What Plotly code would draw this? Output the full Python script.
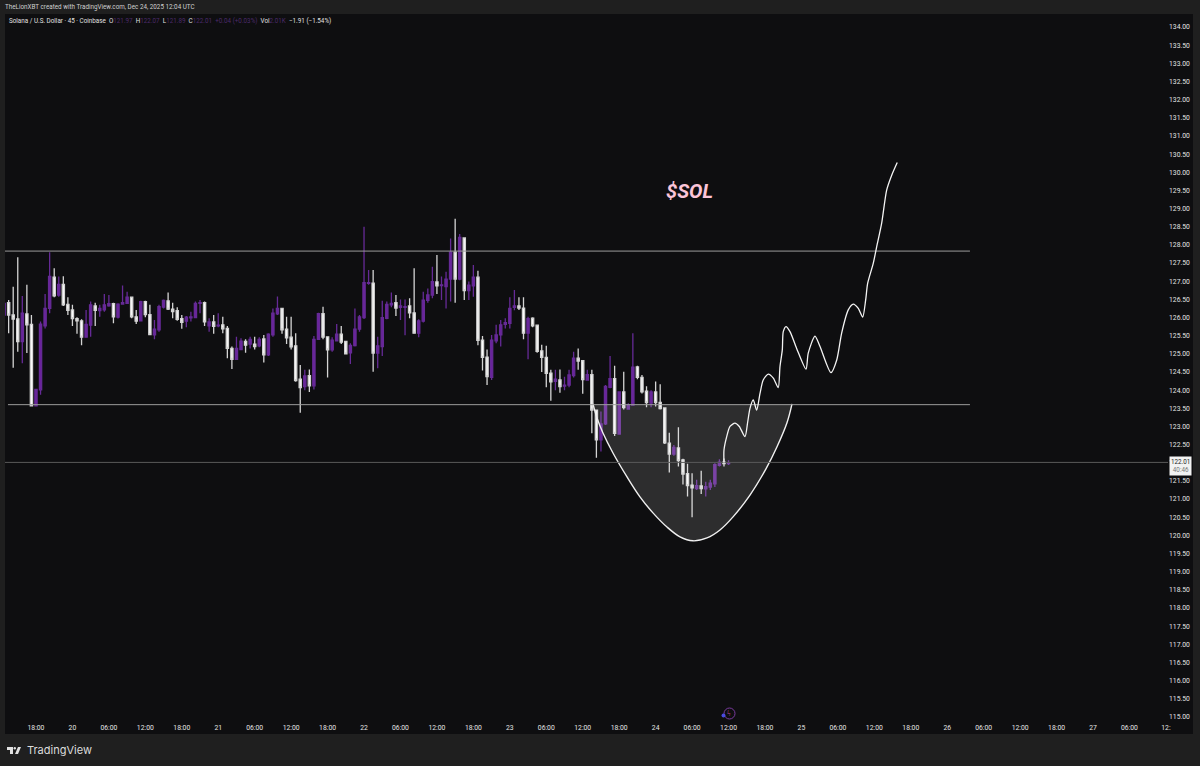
import pandas as pd
import plotly.graph_objects as go

# 45 minute candles
opens = [126.07, 126.41, 126.07, 125.96, 125.34, 126.10, 125.81, 123.57, 124.01, 125.77,
         126.25, 127.11, 126.62, 126.91, 126.36, 126.21, 125.97, 125.91, 125.46, 125.79,
         126.32, 126.19, 126.21, 126.32, 126.38, 126.01, 126.37, 126.39, 126.56, 126.02,
         125.91, 126.44, 126.08, 125.52, 125.66, 126.29, 126.46, 126.23, 126.19, 125.97,
         125.90, 125.99, 126.00, 126.39, 126.41, 125.77, 125.88, 125.77, 125.80, 125.70,
         125.15, 124.85, 125.12, 125.34,
         125.27, 125.27, 125.22, 125.41, 124.97, 125.52, 126.10, 126.25, 125.68, 125.46,
         125.22, 124.30, 124.10, 124.40, 124.12, 125.40, 126.11, 125.47, 125.11, 125.36,
         125.54, 125.34, 125.03, 125.23, 125.68, 126.00, 126.94, 126.95, 125.02, 125.20,
         125.98, 126.35, 126.41, 126.28, 126.28, 126.32, 126.13, 125.57, 125.90, 126.47,
         126.62, 126.98, 126.88, 126.85, 127.06, 127.80, 127.06, 128.19, 126.74, 126.87,
         127.11, 125.38, 124.91, 124.35, 125.36,
         125.52, 125.81, 125.84, 126.28, 126.32, 126.26, 125.57, 125.98, 125.79, 125.08,
         124.90, 124.47, 124.24, 124.28, 124.11, 124.14, 124.40, 124.88, 124.81, 124.28,
         124.43, 123.45, 122.63, 123.07, 124.08, 124.32, 122.79, 123.95, 123.48, 123.59,
         124.64, 124.35, 123.97, 123.64, 123.95, 123.66, 123.51, 122.54, 122.24, 122.41,
         122.08, 121.70, 121.38, 121.29, 121.36, 121.28, 121.33, 121.42, 121.93, 122.02,
         121.98]
highs = [126.44, 126.48, 126.85, 127.66, 126.59, 126.90, 126.07, 124.02, 125.89, 126.65,
         127.80, 127.36, 127.13, 127.14, 126.56, 126.35, 126.01, 125.95, 126.21, 126.44,
         126.41, 126.35, 126.65, 126.62, 126.41, 126.39, 126.88, 126.71, 126.58, 126.21,
         126.46, 126.46, 126.35, 125.93, 126.35, 126.50, 126.69, 126.41, 126.28, 126.07,
         126.04, 126.16, 126.44, 126.48, 126.44, 125.98, 126.07, 126.12, 126.02, 125.77,
         125.20, 125.47, 125.43, 125.40,
         125.47, 125.47, 125.46, 125.52, 125.57, 126.25, 126.58, 126.27, 126.02, 126.02,
         125.57, 124.69, 124.56, 124.57, 125.49, 126.13, 126.30, 125.47, 125.46, 125.82,
         125.77, 125.36, 125.29, 126.25, 126.07, 128.50, 127.31, 127.31, 125.47, 126.46,
         126.44, 126.69, 126.62, 126.50, 126.50, 126.53, 127.36, 125.95, 126.71, 126.80,
         127.40, 127.72, 127.13, 127.26, 128.18, 128.72, 128.30, 128.21, 126.99, 127.45,
         127.29, 125.49, 125.12, 125.52, 125.80,
         125.93, 125.98, 126.56, 126.76, 126.56, 126.56, 126.02, 126.01, 125.80, 125.25,
         125.22, 124.56, 124.56, 124.57, 124.37, 124.56, 125.06, 125.15, 124.83, 124.56,
         124.56, 123.45, 123.41, 124.14, 124.94, 124.67, 123.95, 124.51, 123.64, 125.57,
         124.67, 124.42, 124.11, 124.00, 124.24, 124.16, 123.53, 122.83, 122.49, 122.98,
         122.11, 121.97, 121.71, 121.53, 121.78, 121.48, 121.53, 121.99, 122.10, 122.12,
         122.07]
lows = [125.75, 125.57, 124.62, 125.06, 124.74, 125.02, 123.57, 123.57, 123.87, 125.70,
        126.12, 126.56, 126.57, 126.32, 126.07, 125.77, 125.55, 125.24, 125.46, 125.47,
        125.77, 126.02, 126.16, 126.30, 125.84, 125.97, 126.35, 126.37, 125.98, 125.82,
        125.89, 126.01, 125.52, 125.40, 125.61, 126.25, 126.21, 125.98, 125.91, 125.69,
        125.73, 125.89, 125.98, 126.12, 125.77, 125.61, 125.55, 125.73, 125.57, 124.88,
        124.58, 124.85, 125.11, 125.03,
        125.15, 125.12, 125.18, 124.76, 124.94, 125.47, 126.07, 125.55, 125.27, 125.12,
        124.23, 123.38, 124.00, 123.95, 124.02, 125.38, 125.40, 124.35, 125.06, 125.34,
        125.27, 124.98, 124.72, 125.20, 125.61, 125.96, 126.90, 124.51, 124.60, 124.94,
        125.95, 126.28, 126.04, 125.93, 125.51, 125.98, 125.55, 125.46, 125.86, 126.41,
        126.53, 126.65, 126.48, 126.25, 126.44, 126.41, 127.03, 126.48, 126.48, 126.57,
        125.24, 124.54, 124.14, 124.28, 125.29,
        125.20, 125.70, 125.70, 126.20, 126.21, 125.40, 124.85, 125.73, 125.03, 124.50,
        124.08, 123.71, 124.00, 123.93, 124.00, 124.08, 124.35, 124.56, 123.90, 124.26,
        122.81, 122.14, 122.31, 123.04, 124.05, 122.74, 122.77, 123.47, 123.47, 123.57,
        124.30, 123.91, 123.53, 123.53, 123.55, 123.47, 122.52, 121.73, 122.19, 121.90,
        121.40, 121.07, 120.50, 121.25, 121.14, 121.07, 121.25, 121.33, 121.90, 121.90,
        121.94]
closes = [126.39, 126.07, 125.96, 125.34, 126.12, 125.80, 123.57, 124.02, 125.82, 126.25,
          127.13, 126.60, 126.91, 126.35, 126.20, 125.97, 125.91, 125.46, 125.81, 126.35,
          126.20, 126.25, 126.35, 126.38, 126.02, 126.37, 126.41, 126.56, 126.02, 125.90,
          126.44, 126.08, 125.53, 125.68, 126.30, 126.47, 126.23, 126.16, 125.95, 125.87,
          126.01, 126.02, 126.39, 126.41, 125.88, 125.88, 125.76, 125.79, 125.69, 125.15,
          124.85, 125.15, 125.35, 125.24,
          125.40, 125.20, 125.40, 124.97, 125.54, 126.12, 126.25, 125.66, 125.44, 125.19,
          124.26, 124.07, 124.39, 124.12, 125.40, 126.11, 125.46, 125.11, 125.38, 125.54,
          125.32, 125.00, 125.23, 125.68, 126.02, 126.96, 126.96, 125.02, 125.22, 126.00,
          126.36, 126.39, 126.26, 126.32, 126.30, 126.13, 125.57, 125.91, 126.48, 126.62,
          126.99, 126.87, 126.90, 127.06, 127.80, 127.06, 128.21, 126.74, 126.89, 127.11,
          125.37, 124.90, 124.37, 125.38, 125.52,
          125.80, 125.86, 126.25, 126.32, 126.26, 125.57, 125.97, 125.77, 125.07, 124.90,
          124.46, 124.23, 124.30, 124.10, 124.14, 124.42, 124.88, 124.80, 124.29, 124.43,
          123.45, 122.63, 123.07, 124.10, 124.32, 122.81, 123.95, 123.52, 123.59, 124.63,
          124.35, 123.95, 123.66, 123.95, 123.66, 123.49, 122.55, 122.24, 122.42, 122.06,
          121.69, 121.37, 121.31, 121.37, 121.29, 121.34, 121.44, 121.95, 122.02, 121.98,
          122.00]

# horizontal levels
upper_level = 127.83
lower_level = 123.60
last_price = 122.01
upper_hours = [-5.10, 153.74]
lower_hours = [-4.61, 153.74]

# the drawn cup, hours after Dec 19 18:00
cup_hours = [91.69, 92.35, 93.33, 94.98, 97.29, 99.42, 101.56, 103.87, 106.01, 108.15,
             110.45, 112.59, 114.74, 117.53, 120.16, 121.98, 123.62, 124.45]
cup_prices = [123.62, 123.23, 122.82, 122.27, 121.61, 121.06, 120.62, 120.23, 119.96, 119.85,
              119.93, 120.15, 120.51, 121.11, 121.83, 122.44, 123.10, 123.62]

# the hand drawn projection
path_hours = [113.25, 113.25, 113.70, 114.24, 115.06, 115.77, 116.71, 117.16, 117.53, 118.07,
              118.63, 119.18, 119.71, 120.54, 121.37, 122.18, 122.47, 122.85, 123.01, 123.46,
              124.12, 125.21, 126.75, 127.12, 128.23, 129.06, 130.86, 131.81, 132.62, 133.71,
              134.53, 135.36, 136.08, 136.57, 136.90, 137.82, 138.39, 139.21, 140.03, 140.86,
              141.77]
path_prices = [122.00, 122.35, 122.72, 123.00, 123.09, 123.00, 122.72, 123.13, 123.50, 123.73,
               123.45, 123.91, 124.28, 124.44, 124.33, 124.07, 124.65, 125.11, 125.61, 125.75,
               125.61, 125.15, 124.58, 125.02, 125.49, 125.20, 124.48, 124.83, 125.57, 126.21,
               126.37, 126.25, 126.01, 126.48, 126.94, 127.49, 127.95, 128.60, 129.51, 129.92,
               130.27]

time_labels = ["18:00", "20", "06:00", "12:00", "18:00", "21", "06:00", "12:00",
               "18:00", "22", "06:00", "12:00", "18:00", "23", "06:00", "12:00",
               "18:00", "24", "06:00", "12:00", "18:00", "25", "06:00", "12:00",
               "18:00", "26", "06:00", "12:00", "18:00", "27", "06:00", "12:"]
price_ticks = [115 + 0.5 * i for i in range(39)]

PANEL = "#0e0e10"
OUTER = "#1f1f1f"
FONT = "Roboto"

# plot area in page pixels
LEFT, RIGHT, TOP, BOTTOM = 5, 1168, 14, 722


def px(x):
    return (x - LEFT) / (RIGHT - LEFT)


def py(y):
    return (BOTTOM - y) / (BOTTOM - TOP)


base = pd.Timestamp("2025-12-19 18:00")


def at(hours):
    return base + pd.to_timedelta(hours, unit="h")


candle_times = pd.date_range("2025-12-19 12:45", periods=len(opens), freq="45min")
tick_times = [base + pd.Timedelta(hours=6 * i) for i in range(len(time_labels))]

fig = go.Figure()

fig.add_trace(go.Candlestick(
    x=candle_times, open=opens, high=highs, low=lows, close=closes,
    increasing=dict(line=dict(color="#652a96", width=1.3), fillcolor="#6c239e"),
    decreasing=dict(line=dict(color="#d4d4d4", width=1.3), fillcolor="#ffffff"),
    whiskerwidth=0,
))
fig.add_trace(go.Scatter(
    x=at(cup_hours), y=cup_prices, mode="lines", fill="toself",
    fillcolor="rgba(255,255,255,0.13)",
    line=dict(color="#f0f0f0", width=1.4, shape="spline", smoothing=1),
))
fig.add_trace(go.Scatter(
    x=at(upper_hours), y=[upper_level, upper_level], mode="lines",
    line=dict(color="#9c9c9c", width=1),
))
fig.add_trace(go.Scatter(
    x=at(lower_hours), y=[lower_level, lower_level], mode="lines",
    line=dict(color="#9c9c9c", width=1),
))
fig.add_trace(go.Scatter(
    x=[candle_times[0], at(186.34)], y=[last_price, last_price], mode="lines",
    line=dict(color="#5a5a5a", width=1),
))
fig.add_trace(go.Scatter(
    x=at(path_hours), y=path_prices, mode="lines",
    line=dict(color="#f4f4f4", width=1.3, shape="spline", smoothing=0.7),
))

dim = "#4c2a6a"
legend_text = (
    "Solana / U.S. Dollar · 45 · Coinbase&nbsp;&nbsp;"
    f"O<span style='color:{dim}'>121.97</span>&nbsp;&nbsp;"
    f"H<span style='color:{dim}'>122.07</span>&nbsp;&nbsp;"
    f"L<span style='color:{dim}'>121.89</span>&nbsp;&nbsp;"
    f"C<span style='color:{dim}'>122.01</span>&nbsp;&nbsp;"
    f"<span style='color:{dim}'>+0.04 (+0.03%)</span>&nbsp;&nbsp;"
    f"Vol<span style='color:{dim}'>2.01K</span>&nbsp;&nbsp;"
    "−1.91 (−1.54%)"
)

annotations = [
    dict(xref="paper", yref="paper", x=px(3), y=py(7), xanchor="left", yanchor="middle",
         showarrow=False,
         text="TheLionXBT created with TradingView.com, Dec 24, 2025 12:04 UTC",
         font=dict(size=6.3, color="#d0d0d0")),
    dict(xref="paper", yref="paper", x=px(7), y=py(21), xanchor="left", yanchor="middle",
         showarrow=False, text=legend_text, font=dict(size=6.3, color="#e0e0e0")),
    dict(xref="paper", yref="paper", x=px(689), y=py(191), xanchor="center", yanchor="middle",
         showarrow=False, text="<b><i>$SOL</i></b>", font=dict(size=20, color="#fbc4d8")),
    dict(xref="paper", yref="paper", x=px(1180), y=py(465.5), xanchor="center", yanchor="middle",
         showarrow=False, text="122.01<br><span style='color:#777777'>40:46</span>",
         bgcolor="#f2f2f2", borderpad=1, font=dict(size=6.3, color="#222222")),
    dict(xref="paper", yref="paper", x=px(25), y=py(750), xanchor="left", yanchor="middle",
         showarrow=False, text="TradingView", font=dict(size=11, color="#dcdcdc", family="Inter")),
    dict(xref="paper", yref="paper", x=px(729), y=py(713), xanchor="center", yanchor="middle",
         showarrow=False, text="ϟ", font=dict(size=8, color="#c04a9a")),
]

shapes = [
    dict(type="rect", xref="paper", yref="paper", layer="below",
         x0=px(5), x1=px(1193), y0=py(14), y1=py(734), fillcolor=PANEL, line_width=0),
    dict(type="path", xref="paper", yref="paper", fillcolor="#e2e2e2", line_width=0,
         path=f"M{px(7)},{py(747)} L{px(13)},{py(747)} L{px(13)},{py(754)} L{px(10)},{py(754)} "
              f"L{px(10)},{py(750)} L{px(7)},{py(750)} Z"),
    dict(type="circle", xref="paper", yref="paper", fillcolor="#e2e2e2", line_width=0,
         x0=px(13.6), x1=px(16), y0=py(747), y1=py(749.4)),
    dict(type="path", xref="paper", yref="paper", fillcolor="#e2e2e2", line_width=0,
         path=f"M{px(15)},{py(754)} L{px(18)},{py(747)} L{px(21)},{py(747)} L{px(18)},{py(754)} Z"),
    dict(type="circle", xref="paper", yref="paper", line=dict(color="#7a3a9e", width=1),
         x0=px(724), x1=px(735), y0=py(708), y1=py(719)),
    dict(type="circle", xref="paper", yref="paper", fillcolor="#4a4ae0", line_width=0,
         x0=px(721.5), x1=px(725.5), y0=py(713.5), y1=py(717.5)),
]

fig.update_layout(
    width=1200, height=766,
    margin=dict(l=LEFT, r=1200 - RIGHT, t=TOP, b=766 - BOTTOM),
    paper_bgcolor=OUTER, plot_bgcolor=PANEL,
    showlegend=False,
    font=dict(family=FONT, color="#e4e4e4", size=6.8),
    annotations=annotations, shapes=shapes,
    xaxis=dict(
        type="date", range=[at(-5.10), at(186.34)], rangeslider=dict(visible=False),
        tickmode="array", tickvals=tick_times, ticktext=time_labels, tickangle=0,
        showgrid=False, zeroline=False, showline=False, ticks="", ticklen=0,
        tickfont=dict(size=6.8, color="#e4e4e4"),
    ),
    yaxis=dict(
        side="right", range=[114.86, 134.36],
        tickmode="array", tickvals=price_ticks, ticktext=[f"{p:.2f}" for p in price_ticks],
        showgrid=False, zeroline=False, showline=False, ticks="",
        tickfont=dict(size=6.8, color="#e4e4e4"),
    ),
)

fig.write_html("out.html", config=dict(displayModeBar=False),
               post_script="document.body.style.margin='0';document.body.style.background='#1f1f1f';")
